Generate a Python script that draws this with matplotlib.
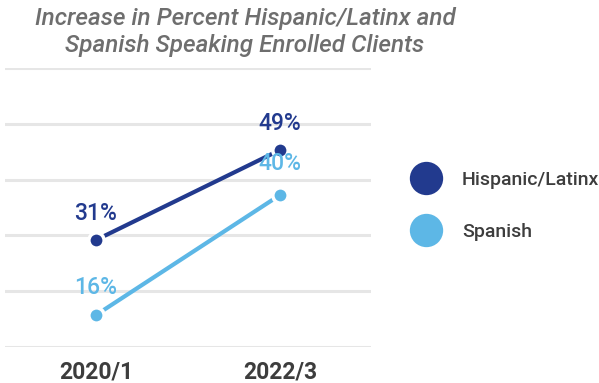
import matplotlib
matplotlib.use("Agg")
import matplotlib.pyplot as plt
import numpy as np
from matplotlib.lines import Line2D

categories = ["2020/1", "2022/3"]
hispanic = [31, 49]
spanish = [16, 40]
series_names = ["Hispanic/Latinx", "Spanish"]
title = "Increase in Percent Hispanic/Latinx and\nSpanish Speaking Enrolled Clients"

dark = "#223a8e"
light = "#5db7e6"
grid_c = "#e6e6e6"
text_c = "#3d3d3d"

plt.rcParams['font.family'] = ['Roboto', 'DejaVu Sans']

fig = plt.figure(figsize=(5.99, 3.83), dpi=100)
ax = fig.add_axes([5/599, 36/383, 366/599, 279/383])

x = np.arange(len(categories))
for vals, col, off in [(hispanic, dark, [19, 19]), (spanish, light, [20, 23])]:
    ax.plot(x, vals, color=col, lw=3, marker='o', ms=11, mfc=col, mec='white', mew=2.5,
            solid_capstyle='butt', zorder=3)
    for xi, v, o in zip(x, vals, off):
        ax.annotate(f"{v}%", (xi, v), xytext=(0, o), textcoords='offset points',
                    ha='center', va='center', fontsize=16.5, color=col, zorder=4,
                    fontweight='medium')

ax.set_xlim(-0.495, 1.495)
ax.set_ylim(9.6, 65.4)
ax.set_yticks(np.linspace(9.6, 65.4, 6))
ax.yaxis.grid(True, color=grid_c, lw=2.2)
ax.set_axisbelow(True)
ax.tick_params(axis='y', left=False, labelleft=False)
ax.set_xticks(x)
ax.set_xticklabels(categories, fontsize=16.5, color=text_c, fontweight='bold')
ax.tick_params(axis='x', bottom=False, pad=6)
for s in ax.spines.values():
    s.set_visible(False)

fig.text(245/599, 1 - 32/383, title, ha='center', va='center', fontsize=17.5,
         style='italic', color='#6e6e6e', linespacing=1.2, fontweight='medium')

handles = [Line2D([], [], ls='none', marker='o', ms=24, mfc=dark, mec='none'),
           Line2D([], [], ls='none', marker='o', ms=24, mfc=light, mec='none')]
fig.legend(handles, series_names, loc='center left', bbox_to_anchor=(389/599, 1 - 206/383),
           frameon=False, labelspacing=1.75, handletextpad=0.85,
           labelcolor=text_c, prop={'weight': 'medium', 'size': 14})

fig.savefig("out.png", dpi=100)
